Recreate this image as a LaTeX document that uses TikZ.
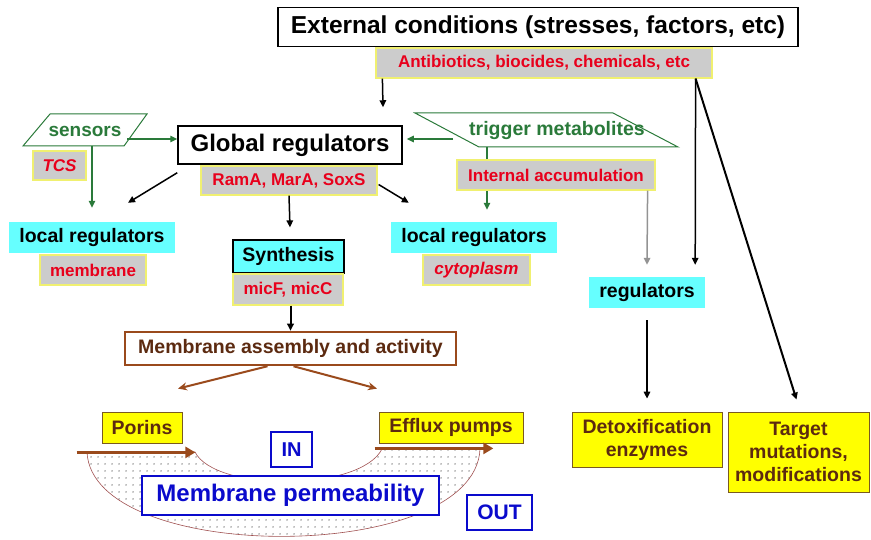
\documentclass[tikz,border=0pt]{standalone}
\usepackage{fontspec}
\setmainfont{Liberation Sans}
\usetikzlibrary{arrows.meta,calc,patterns.meta}
\definecolor{cyanbg}{HTML}{66FFFF}
\definecolor{graybg}{HTML}{CCCCCC}
\definecolor{ylwb}{HTML}{F0F070}
\definecolor{redt}{HTML}{E8001C}
\definecolor{grn}{HTML}{2A7A3A}
\definecolor{brn}{HTML}{9A4A1C}
\definecolor{brntext}{HTML}{5C2A10}
\definecolor{blu}{HTML}{0A0ACC}
\definecolor{yel}{HTML}{FFFF00}
\definecolor{yelb}{HTML}{7A5A20}
\definecolor{dotline}{HTML}{A05050}
\newcommand\fz[2]{\fontsize{#1}{#2}\selectfont}
\tikzset{
  box/.style={inner sep=0pt, align=center, font=\bfseries},
  blk/.style={box, draw=black, line width=1.5pt, fill=white},
  gbox/.style={box, fill=graybg, draw=ylwb, line width=1.2pt, text=redt},
  cbox/.style={box, fill=cyanbg},
  ybox/.style={box, fill=yel, draw=yelb, line width=0.8pt, text=brntext},
  bbox/.style={box, draw=blu, line width=1.5pt, fill=white, text=blu},
  arr/.style={-{Triangle[length=7pt,width=6.5pt]}, line width=1.5pt},
  garr/.style={arr, draw=grn, line width=1.3pt},
  barr/.style={-{Stealth[length=9pt,width=8pt]}, draw=brn, line width=2pt},
  thickarr/.style={-{Triangle[length=10pt,width=11pt]}, draw=brn, line width=3.5pt},
  para/.style={draw=grn, line width=1pt, fill=white},
}
\begin{document}
\begin{tikzpicture}[x=1pt,y=-1pt]
\useasboundingbox (0,0) rectangle (871,540);

% dotted crescent region
\path[draw=dotline, line width=0.6pt, pattern={Dots[distance=6.5pt,radius=0.75pt]}, pattern color=black!75]
  (87,452) .. controls (92,565) and (475,565) .. (480,449)
  -- (382,449) .. controls (360,492) and (215,492) .. (195,452) -- cycle;

% parallelograms
\draw[para] (23,146) -- (50,114) -- (147,114) -- (124,146) -- cycle;
\node[box, text=grn, font=\bfseries\fz{19}{22}] (sensors) at (85,131) {sensors};
\draw[para] (415,113) -- (613,113) -- (678,147) -- (479,147) -- cycle;
\node[box, text=grn, font=\bfseries\fz{19.5}{22}] (trigger) at (557,131) {trigger metabolites};
\coordinate (sR) at (127,139);
\coordinate (sB) at (92,146);
\coordinate (tL) at (453,139);
\coordinate (tB) at (487,147);

% boxes
\node[blk, minimum width=520, minimum height=39, font=\bfseries\fz{24.5}{28}] (ext) at (538,27) {External conditions (stresses, factors, etc)};
\node[gbox, minimum width=336, minimum height=30, font=\bfseries\fz{17}{20}] (anti) at (544,63) {Antibiotics, biocides, chemicals, etc};

\node[blk, minimum width=224, minimum height=38, font=\bfseries\fz{24}{28}] (glob) at (290,145) {Global regulators};
\node[gbox, minimum width=176, minimum height=29, font=\bfseries\fz{17}{20}] (ram) at (289,180.5) {RamA, MarA, SoxS};

\node[gbox, minimum width=53, minimum height=29, font=\bfseries\itshape\fz{17}{20}] (tcs) at (59.5,165.5) {TCS};

\node[cbox, minimum width=166, minimum height=31, font=\bfseries\fz{19.5}{22}] (locL) at (92,237.5) {local regulators};
\node[gbox, minimum width=106, minimum height=30, font=\bfseries\fz{17}{20}] (memb) at (93,270) {membrane};

\node[blk, fill=cyanbg, line width=1.2pt, minimum width=111, minimum height=33, font=\bfseries\fz{19.5}{22}] (synth) at (288.5,256.5) {Synthesis};
\node[gbox, minimum width=110, minimum height=31, font=\bfseries\fz{17}{20}] (micf) at (288,289.5) {micF, micC};

\node[cbox, minimum width=166, minimum height=31, font=\bfseries\fz{19.5}{22}] (locR) at (474,237.5) {local regulators};
\node[gbox, minimum width=107, minimum height=30, font=\bfseries\itshape\fz{17}{20}] (cyto) at (476.5,270) {cytoplasm};

% green trigger arrow passes behind the internal accumulation box
\draw[garr] (tB) -- ($(tB |- locR.north)+(0,-12)$);
\node[gbox, minimum width=198, minimum height=30, font=\bfseries\fz{17}{20}] (intacc) at (556,175) {Internal accumulation};

\node[cbox, minimum width=116, minimum height=31, font=\bfseries\fz{19.5}{22}] (regs) at (647,292.5) {regulators};
\node[ybox, minimum width=150, minimum height=55, font=\bfseries\fz{19.5}{23}] (detox) at (647,439.5) {Detoxification\\enzymes};
\node[ybox, minimum width=141, minimum height=80, font=\bfseries\fz{19.5}{23}] (target) at (798.5,452) {Target\\mutations,\\modifications};

\node[box, draw=brn, line width=2.5pt, fill=white, text=brntext, minimum width=331, minimum height=33, font=\bfseries\fz{19.5}{22}] (assem) at (290.5,348.5) {Membrane assembly and activity};
\node[ybox, minimum width=80, minimum height=31, font=\bfseries\fz{19.5}{22}] (porins) at (142,427.5) {Porins};
\node[ybox, minimum width=144, minimum height=31, font=\bfseries\fz{19.5}{22}] (efflux) at (451,427.5) {Efflux pumps};

\node[bbox, line width=2pt, minimum width=297, minimum height=39, font=\bfseries\fz{24}{28}] (perm) at (290.5,495.5) {Membrane permeability};
\node[bbox, line width=1.2pt, minimum width=41, minimum height=35, font=\bfseries\fz{20}{22}] (in) at (291.5,449.5) {IN};
\node[bbox, line width=1.2pt, minimum width=65, minimum height=35, font=\bfseries\fz{21}{24}] (out) at (499.5,512.5) {OUT};

% connectors
\coordinate (aS) at ($(anti.south east)+(-17,0)$);
\draw[arr] ($(anti.south west)+(7,0)$) -- ($(glob.north)+(93,-18)$);
\draw[arr] (aS) -- ($(regs.north east)+(-10,-12)$);
\draw[arr, line width=2pt] (aS) -- ($(target.north)+(-2,-12)$);
\draw[arr, draw=gray!85] ($(intacc.south east)+(-8,0)$) -- ($(regs.north)+(0,-12)$);
\draw[arr] ($(regs.south)+(0,12)$) -- ($(detox.north)+(0,-13)$);

\draw[garr] (sR) -- (sR -| glob.west);
\draw[garr] (tL) -- ($(tL -| glob.east)+(4,0)$);
\draw[garr] (sB) -- ($(sB |- locL.north)+(0,-14)$);

\draw[arr] ($(glob.south west)+(0,8)$) -- ($(locL.north)+(36,-19)$);
\draw[arr] ($(ram.east)+(1,4)$) -- ($(locR.north west)+(18,-19)$);
\draw[arr] (ram.south) -- ($(synth.north)+(1.5,-12)$);
\draw[arr, line width=2pt] (micf.south -| assem.north) -- (assem.north);

\draw[barr] ($(assem.south)+(-23,0)$) -- ($(porins.north)+(36,-23)$);
\draw[barr] ($(assem.south)+(3,0)$) -- ($(efflux.north)+(-74,-23)$);

\draw[thickarr] ($(porins.south west)+(-25,9)$) -- ($(porins.south east)+(13,9)$);
\draw[thickarr] ($(efflux.south west)+(-4,5)$) -- ($(efflux.south east)+(-30,5)$);
\end{tikzpicture}
\end{document}
